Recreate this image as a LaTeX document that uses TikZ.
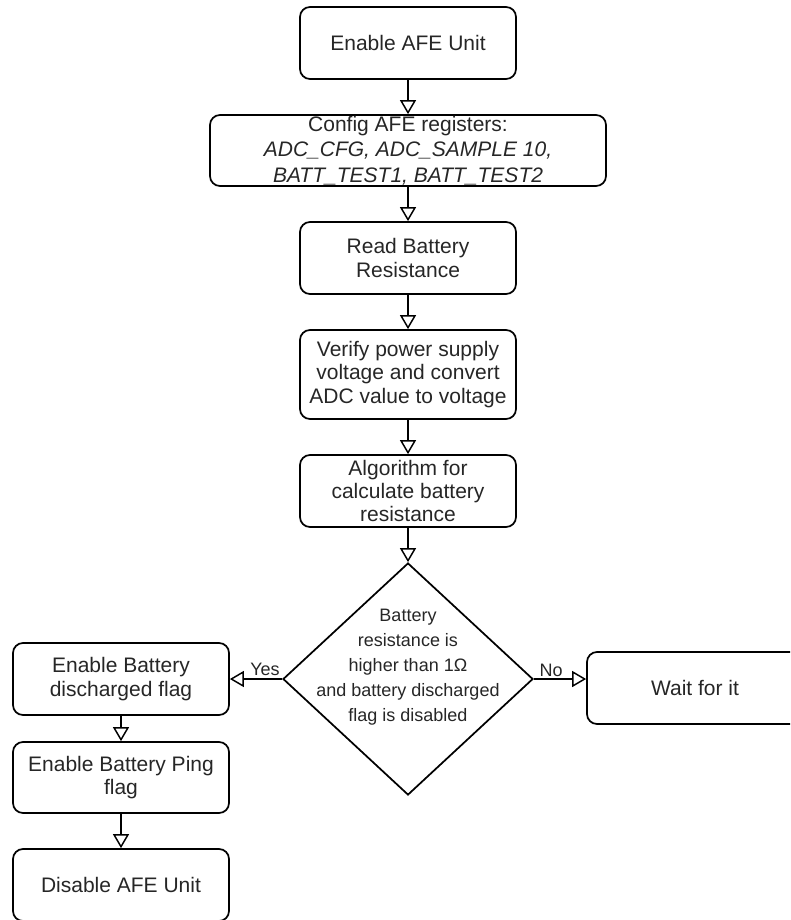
\documentclass[tikz,border=0pt]{standalone}
\usepackage{fontspec}
\setmainfont{Liberation Sans}
\usetikzlibrary{shapes.geometric,arrows.meta}
\begin{document}
\begin{tikzpicture}[x=0.75pt,y=-0.75pt,
  box/.style={draw=black, line width=1.3pt, rounded corners=7.5pt, rectangle, inner sep=0pt,
    minimum width=162pt, minimum height=54pt, align=center, text=black!85,
    font=\fontsize{15.75pt}{17.6pt}\selectfont},
  flow/.style={line width=1.3pt, draw=black, -{Triangle[length=10.5pt,width=12pt,fill=white,line width=1.1pt]}},
  lbl/.style={font=\fontsize{13.5pt}{16pt}\selectfont, text=black!85, inner sep=0pt}
]
\useasboundingbox (0,0) rectangle (790,920);
\clip (0,0) rectangle (790,920);

\node[box] (afe) at (408,43) {Enable AFE Unit};
\node[box, minimum width=297pt, minimum height=53.25pt, font=\fontsize{15.75pt}{19pt}\selectfont] (cfg) at (408,150.5)
  {Config AFE registers:\\ \textit{ADC\_CFG, ADC\_SAMPLE 10,}\\ \textit{BATT\_TEST1, BATT\_TEST2}};
\node[box] (read) at (408,258) {Read Battery\\Resistance};
\node[box, minimum height=66.75pt] (verify) at (408,374.5) {Verify power supply\\voltage and convert\\ADC value to voltage};
\node[box] (algo) at (408,491) {Algorithm for\\calculate battery\\resistance};

\node[diamond, draw=black, line width=1.3pt, inner sep=0pt, minimum width=187.5pt, minimum height=174pt] (dec) at (408,679) {};
\node[align=center, text=black!85, inner sep=0pt, font=\fontsize{13.5pt}{18.75pt}\selectfont] (dect) at (408,667)
  {Battery\\resistance is\\higher than 1Ω\\and battery discharged\\flag is disabled};

\node[box] (disch) at (121,679) {Enable Battery\\discharged flag};
\node[box, minimum height=53.25pt] (ping) at (121,777.5) {Enable Battery Ping\\flag};
\node[box] (disable) at (121,885) {Disable AFE Unit};
\node[box] (wait) at (695,688) {Wait for it};

\draw[flow] (afe) -- (cfg);
\draw[flow] (cfg) -- (read);
\draw[flow] (read) -- (verify);
\draw[flow] (verify) -- (algo);
\draw[flow] (algo) -- (dec.north);
\draw[flow] (dec.west) -- (disch.east);
\draw[flow] (dec.east) -- (dec.east -| wait.west);
\draw[flow] (disch) -- (ping);
\draw[flow] (ping) -- (disable);

\node[lbl] (yes) at (265,669) {Yes};
\node[lbl] (no) at (551,670) {No};
\end{tikzpicture}
\end{document}
